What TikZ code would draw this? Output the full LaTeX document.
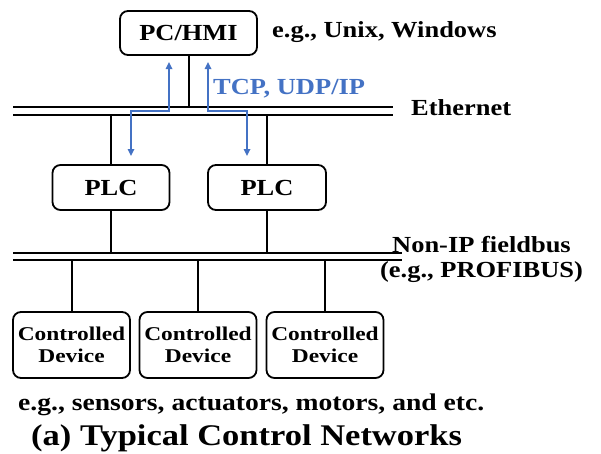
\documentclass[tikz,border=0pt]{standalone}
\usepackage{fontspec}
\setmainfont{Liberation Serif}[FakeStretch=1.15]
\newfontfamily\devfont{Liberation Serif}[FakeStretch=1.2]
\usetikzlibrary{arrows.meta}
\definecolor{netblue}{HTML}{4472C4}
\begin{document}
\begin{tikzpicture}[x=1pt,y=-1pt,
  box/.style={draw,line width=1.8pt,rounded corners=8pt,align=center,inner sep=0pt,
    font=\fontsize{23}{23}\selectfont\bfseries},
  devbox/.style={box,minimum width=117pt,minimum height=66pt,
    font=\devfont\fontsize{19.5}{21.5}\selectfont\bfseries},
  wire/.style={line width=2pt},
  flow/.style={netblue,line width=1.6pt,{Triangle[width=6.5pt,length=7pt]}-{Triangle[width=6.5pt,length=7pt]}},
  lbl/.style={inner sep=0pt,font=\fontsize{23}{26}\selectfont\bfseries}]
\useasboundingbox (0,0) rectangle (601,453);

% hosts
\node[box,minimum width=137pt,minimum height=44pt] (pc) at (188.5,33) {PC/HMI};
\node[box,minimum width=117pt,minimum height=45pt] (plc1) at (111,187.5) {PLC};
\node[box,minimum width=118pt,minimum height=45pt] (plc2) at (267,187.5) {PLC};
\node[devbox] (dev1) at (71.5,345) {Controlled\\Device};
\node[devbox] (dev2) at (198,345) {Controlled\\Device};
\node[devbox] (dev3) at (325,345) {Controlled\\Device};

% Ethernet bus (double line)
\coordinate (ethA1) at (13,107);   \coordinate (ethB1) at (393,107);
\coordinate (ethA2) at (13,115);   \coordinate (ethB2) at (393,115);
\draw[wire] (ethA1) -- (ethB1);
\draw[wire] (ethA2) -- (ethB2);

% fieldbus (double line)
\coordinate (fbA1) at (13,253);   \coordinate (fbB1) at (402,253);
\coordinate (fbA2) at (13,260);   \coordinate (fbB2) at (402,260);
\draw[wire] (fbA1) -- (fbB1);
\draw[wire] (fbA2) -- (fbB2);

% drops
\draw[wire] (pc.south) -- (pc.south |- ethA1);
\draw[wire] (plc1.north) -- (plc1.north |- ethA2);
\draw[wire] (plc2.north) -- (plc2.north |- ethA2);
\draw[wire] (plc1.south) -- (plc1.south |- fbA1);
\draw[wire] (plc2.south) -- (plc2.south |- fbA1);
\draw[wire] (dev1.north) -- (dev1.north |- fbA2);
\draw[wire] (dev2.north) -- (dev2.north |- fbA2);
\draw[wire] (dev3.north) -- (dev3.north |- fbA2);

% IP traffic between PC and PLCs
\coordinate (l1) at (131,156); \coordinate (l2) at (131,111);
\coordinate (l3) at (169,111); \coordinate (l4) at (169,62);
\coordinate (r1) at (247,156); \coordinate (r2) at (247,111);
\coordinate (r3) at (208,111); \coordinate (r4) at (208,62);
\draw[flow] (l1) -- (l2) -- (l3) -- (l4);
\draw[flow] (r1) -- (r2) -- (r3) -- (r4);

% labels
\node[lbl,anchor=west] (os) at (272,32) {e.g., Unix, Windows};
\node[lbl,anchor=west,text=netblue] (ip) at (213,89) {TCP, UDP/IP};
\node[lbl,anchor=west] (eth) at (411,108) {Ethernet};
\node[lbl] (fb1) at (481.5,245) {Non-IP fieldbus};
\node[lbl] (fb2) at (481.5,272) {(e.g., PROFIBUS)};
\node[lbl,anchor=west,font=\fontsize{24}{26}\selectfont\bfseries] (ex) at (18,405) {e.g., sensors, actuators, motors, and etc.};
\node[lbl,anchor=west,font=\fontsize{30}{32}\selectfont\bfseries] (title) at (31,438) {(a) Typical Control Networks};
\end{tikzpicture}
\end{document}
